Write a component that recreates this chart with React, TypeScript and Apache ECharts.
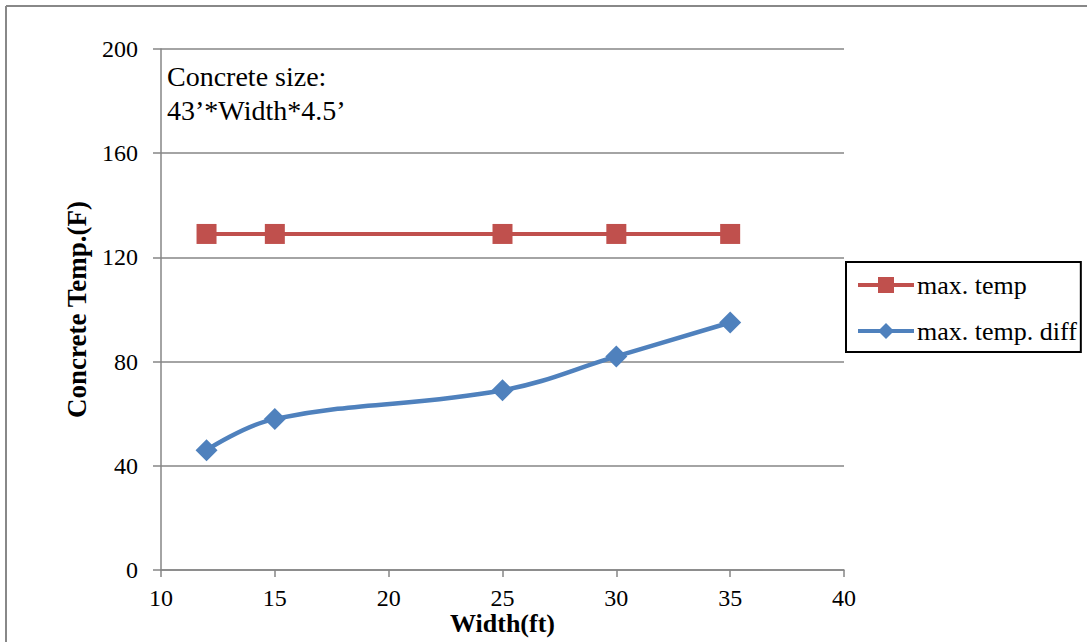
import React, { useEffect, useRef } from "react";
import * as echarts from "echarts";

const widths = [12, 15, 25, 30, 35];
const maxTemp = [129, 129, 129, 129, 129];
const maxTempDiff = [46, 58, 69, 82, 95];
const seriesNames = ["max. temp", "max. temp. diff"];
const noteLines = ["Concrete size:", "43’*Width*4.5’"];

const FONT = "'Liberation Serif', 'Times New Roman', serif";
const GRAY = "#868686";

export default function App() {
  const ref = useRef<HTMLDivElement>(null);
  useEffect(() => {
    if (!ref.current) return;
    const chart = echarts.init(ref.current, undefined, { renderer: "svg" });
    chart.setOption({
      animation: false,
      backgroundColor: "#ffffff",
      textStyle: { fontFamily: FONT },
      grid: {
        left: 161,
        right: 244,
        top: 49,
        bottom: 72,
        containLabel: false,
        outerBoundsMode: "none",
      },
      xAxis: {
        type: "value",
        min: 10,
        max: 40,
        interval: 5,
        name: "Width(ft)",
        nameLocation: "middle",
        nameGap: 40,
        nameMoveOverlap: false,
        nameTextStyle: { fontFamily: FONT, fontSize: 26, fontWeight: "bold", color: "#000", lineHeight: 26 },
        axisLine: { show: true, onZero: false, lineStyle: { color: GRAY, width: 1.5 } },
        axisTick: { show: true, inside: false, length: 7, lineStyle: { color: GRAY, width: 1.5 } },
        axisLabel: { fontFamily: FONT, fontSize: 24, color: "#000", margin: 16, lineHeight: 24 },
        splitLine: { show: false },
      },
      yAxis: {
        type: "value",
        min: 0,
        max: 200,
        interval: 40,
        name: "Concrete Temp.(F)",
        nameLocation: "middle",
        nameGap: 71,
        nameMoveOverlap: false,
        nameRotate: 90,
        nameTextStyle: { fontFamily: FONT, fontSize: 27, fontWeight: "bold", color: "#000" },
        axisLine: { show: true, lineStyle: { color: GRAY, width: 1.5 } },
        axisTick: { show: true, inside: false, length: 8, lineStyle: { color: GRAY, width: 1.5 } },
        axisLabel: { fontFamily: FONT, fontSize: 24, color: "#000", margin: 23 },
        splitLine: { show: true, lineStyle: { color: GRAY, width: 1.5 } },
      },
      legend: {
        orient: "vertical",
        left: 846,
        top: 262,
        padding: [10, 4, 8, 10],
        itemGap: 20,
        itemWidth: 56,
        itemHeight: 20,
        borderColor: "#000",
        borderWidth: 2,
        borderRadius: 0,
        lineStyle: { width: 4 },
        textStyle: { fontFamily: FONT, fontSize: 26, color: "#000", padding: [0, 0, 0, -2] },
        data: seriesNames,
      },
      series: [
        {
          name: seriesNames[0],
          type: "line",
          data: widths.map((w, i) => [w, maxTemp[i]]),
          symbol: "rect",
          symbolSize: 20,
          lineStyle: { color: "#C0504D", width: 4 },
          itemStyle: { color: "#C0504D" },
        },
        {
          name: seriesNames[1],
          type: "line",
          data: widths.map((w, i) => [w, maxTempDiff[i]]),
          smooth: 0.4,
          symbol: "diamond",
          symbolSize: 22,
          lineStyle: { color: "#4F81BD", width: 4.5 },
          itemStyle: { color: "#4F81BD" },
        },
      ],
      graphic: [
        {
          type: "line",
          shape: { x1: 6, y1: 6, x2: 1087, y2: 6 },
          style: { stroke: "#888", lineWidth: 2 },
        },
        {
          type: "line",
          shape: { x1: 6, y1: 6, x2: 6, y2: 642 },
          style: { stroke: "#888", lineWidth: 2 },
        },
        {
          type: "text",
          left: 167,
          top: 59,
          style: {
            text: noteLines.join("\n"),
            fontFamily: FONT,
            fontSize: 28,
            lineHeight: 34,
            fill: "#000",
          },
        },
      ],
    });
    return () => chart.dispose();
  }, []);
  return (
    <div
      ref={ref}
      style={{ position: "absolute", left: 0, top: 0, width: 1088, height: 642 }}
    />
  );
}
